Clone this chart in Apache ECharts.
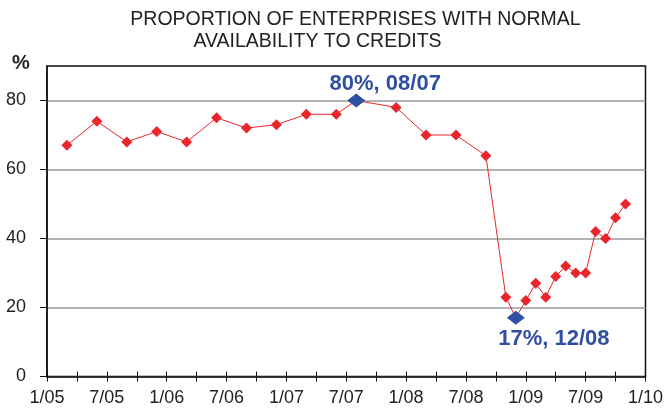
<!DOCTYPE html>
<html>
<head>
<meta charset="utf-8">
<script src="https://cdn.jsdelivr.net/npm/echarts@6/dist/echarts.min.js"></script>
<style>
  html, body { margin: 0; padding: 0; background: #fff; }
  #chart { width: 666px; height: 414px; }
</style>
</head>
<body>
<div id="chart"></div>
<script>
// months counted from 1/05 (0 = Jan 2005)
const months = [2, 5, 8, 11, 14, 17, 20, 23, 26, 29, 31, 35, 38, 41, 44,
  46, 47, 48, 49, 50, 51, 52, 53, 54, 55, 56, 57, 58]
const values = [67, 74, 68, 71, 68, 75, 72, 73, 76, 76, 80, 78, 70, 70, 64,
  23, 17, 22, 27, 23, 29, 32, 30, 30, 42, 40, 46, 50]
const yTicks = [0, 20, 40, 60, 80]
// highlighted points (index into the arrays above) and their notes
const highlights = { 10: '80%, 08/07', 16: '17%, 12/08' }
const noteOffsets = { 10: [29, -17], 16: [38, 21] }

const red = '#e8262b'
const blue = '#2f4fa2'
const font = 'Liberation Sans, Arial, sans-serif'

function monthLabel(m) {
  if (m % 6 !== 0) return ''
  const mm = (m % 12) + 1
  const yy = 5 + Math.floor(m / 12)
  return mm + '/' + (yy < 10 ? '0' + yy : yy)
}

const seriesData = months.map(function (m, i) {
  const item = { value: [m, values[i]] }
  if (highlights[i]) {
    item.symbolSize = [18, 14]
    item.itemStyle = { color: blue }
    item.label = {
      show: true,
      position: 'inside',
      offset: noteOffsets[i],
      formatter: highlights[i],
      color: blue,
      fontSize: 22,
      fontWeight: 'bold',
      fontFamily: font
    }
  }
  return item
})

const myChart = echarts.init(document.getElementById('chart'))
const option = {
  animation: false,
  graphic: [
    {
      type: 'text', x: 355.5, y: 20,
      style: { text: 'PROPORTION OF ENTERPRISES WITH NORMAL', align: 'center', verticalAlign: 'middle',
        fontSize: 19.5, fontFamily: font, fill: '#222' }
    },
    {
      type: 'text', x: 317.5, y: 42,
      style: { text: 'AVAILABILITY TO CREDITS', align: 'center', verticalAlign: 'middle',
        fontSize: 19.5, fontFamily: font, fill: '#222' }
    },
    {
      type: 'text', x: 21, y: 63,
      style: { text: '%', align: 'center', verticalAlign: 'middle',
        fontSize: 20, fontWeight: 'bold', fontFamily: font, fill: '#222' }
    }
  ],
  grid: {
    left: 47, right: 16, top: 66, bottom: 37.5,
    show: true, borderColor: '#111', borderWidth: 1.5
  },
  xAxis: [
    {
      type: 'value', min: 0, max: 60, interval: 3,
      axisLine: { lineStyle: { color: '#111', width: 1.5 } },
      axisTick: { length: 5, lineStyle: { color: '#111', width: 1 } },
      axisLabel: { formatter: monthLabel, margin: 13, fontSize: 18, fontFamily: font, color: '#222',
        showMinLabel: true, showMaxLabel: true },
      splitLine: { show: false }
    },
    {
      type: 'value', min: 0, max: 60, interval: 3, position: 'bottom',
      axisLine: { show: false },
      axisTick: { inside: true, length: 5, lineStyle: { color: '#111', width: 1 } },
      axisLabel: { show: false },
      splitLine: { show: false }
    }
  ],
  yAxis: {
    type: 'value', min: 0, max: 90,
    axisLine: { show: true, lineStyle: { color: '#111', width: 1.5 } },
    axisTick: { show: true, length: 7, customValues: yTicks, lineStyle: { color: '#111', width: 1 } },
    axisLabel: { customValues: yTicks, margin: 21, fontSize: 18, fontFamily: font, color: '#222' },
    splitLine: { show: true, lineStyle: { color: '#9a9a9a', width: 1.5 } }
  },
  series: [
    {
      type: 'line',
      data: seriesData,
      symbol: 'diamond',
      symbolSize: 11,
      lineStyle: { color: red, width: 1 },
      itemStyle: { color: red },
      z: 3
    }
  ]
}
myChart.setOption(option)
</script>
</body>
</html>
